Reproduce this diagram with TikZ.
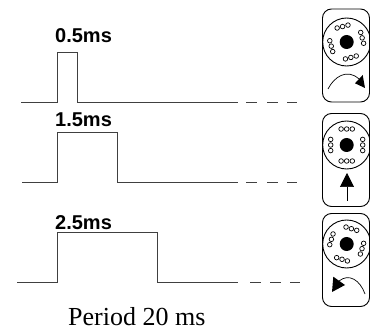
\documentclass[tikz,border=0pt]{standalone}
\usepackage{fontspec}
\setmainfont{Liberation Serif}
\setsansfont{Liberation Sans}
\usetikzlibrary{arrows.meta, positioning, calc}
\definecolor{pulsegray}{HTML}{404040}

\begin{document}
\begin{tikzpicture}[x=1pt, y=-1pt, >={Triangle[length=14pt, width=14pt]}]
  % Styles
  \tikzstyle{pulseline} = [draw=pulsegray, line width=1pt]
  \tikzstyle{pulselabel} = [font=\sffamily\bfseries\fontsize{20}{20}\selectfont, anchor=base west, inner sep=0pt]
  \tikzstyle{servobox} = [draw=black, rounded corners=9pt, minimum width=47pt, minimum height=93pt, inner sep=0pt, line width=0.9pt]
  \tikzstyle{disc} = [draw=black, circle, minimum size=48pt, inner sep=0pt, line width=0.9pt]
  \tikzstyle{hub} = [fill=black, circle, minimum size=14pt, inner sep=0pt]
  \tikzstyle{hole} = [draw=black, circle, minimum size=4.6pt, inner sep=0pt, line width=0.7pt]

  \useasboundingbox (0,0) rectangle (370,334);

  % Pulse 0.5ms
  \draw[pulseline] (21,103) -- (57.5,103) -- (57.5,53) -- (77.5,53) -- (77.5,103) -- (238,103);
  \draw[pulseline] (246,103) -- (257,103) (267,103) -- (278,103) (287,103) -- (297,103);
  \node[pulselabel] (labela) at (55,43) {0.5ms};

  % Pulse 1.5ms
  \draw[pulseline] (22,183) -- (57.5,183) -- (57.5,133) -- (117,133) -- (117,183) -- (238,183);
  \draw[pulseline] (246,183) -- (257,183) (267,183) -- (278,183) (287,183) -- (297,183);
  \node[pulselabel] (labelb) at (55,127) {1.5ms};

  % Pulse 2.5ms
  \draw[pulseline] (17,283) -- (57.5,283) -- (57.5,233) -- (157,233) -- (157,283) -- (238,283);
  \draw[pulseline] (250,283) -- (261,283) (270,283) -- (281,283) (290,283) -- (300,283);
  \node[pulselabel] (labelc) at (55,230) {2.5ms};

  \node[anchor=base west, inner sep=0pt, font=\fontsize{26}{26}\selectfont] (period) at (68,326) {Period 20 ms};

  % Servo boxes with discs
  \foreach \name/\ypos/\boxpos/\turn in {a/42/55.5/15, b/145/160/0, c/244/260/-17} {
    \node[servobox] (servo\name) at (346,\boxpos) {};
    \node[disc] (disc\name) at (346.7,\ypos) {};
    \node[hub] (hub\name) at (346.7,\ypos) {};
    \foreach \ang in {0,90,180,270} {
      \foreach \off in {-5.6,0,5.6} {
        \node[hole] at ($(hub\name) + ({\ang+\turn}:16pt) + ({\ang+\turn-90}:\off pt)$) {};
      }
    }
  }

  % Horn arrows
  \coordinate (starta) at (328,89);
  \coordinate (basea) at (359,79);
  \coordinate (tipa) at (365,88);
  \coordinate (startb) at (347,201);
  \coordinate (tipb) at (347,173);
  \coordinate (startc) at (365,294);
  \coordinate (basec) at (339,281);
  \coordinate (tipc) at (332,292);
  \draw[line width=0.7pt] (starta) .. controls (334,77) and (347,68) .. (basea);
  \fill (tipa) -- (362.7,75) -- (355,83.3) -- cycle;
  \draw[->, line width=0.7pt] (startb) -- (tipb);
  \draw[line width=0.7pt] (startc) .. controls (360,280) and (349,273) .. (basec);
  \fill (tipc) -- (333.3,276.7) -- (345,285) -- cycle;
\end{tikzpicture}
\end{document}
